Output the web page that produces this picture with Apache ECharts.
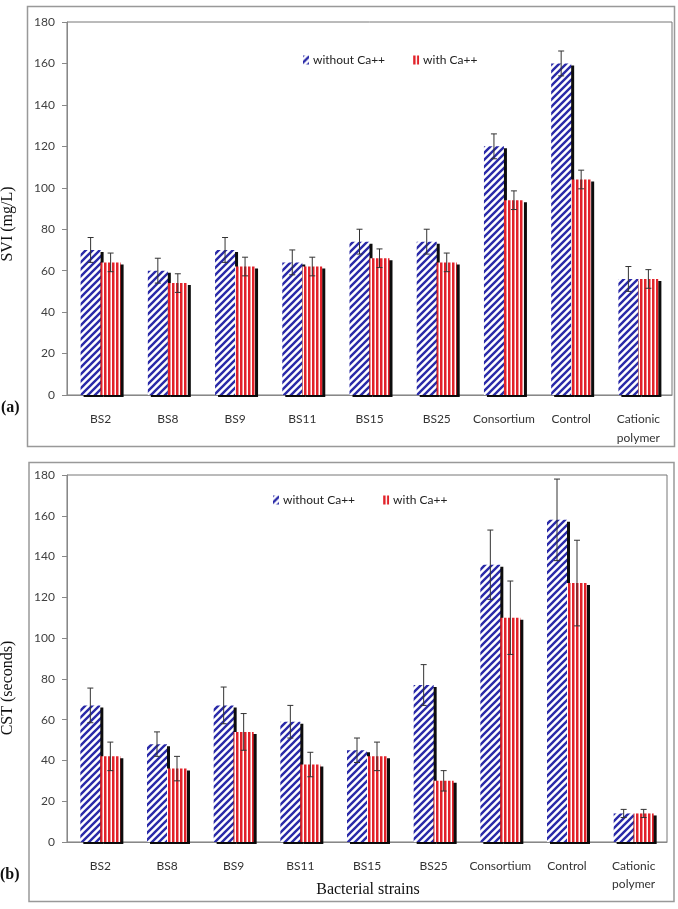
<!DOCTYPE html>
<html>
<head>
<meta charset="utf-8">
<title>SVI / CST by bacterial strain</title>
<script src="https://cdn.jsdelivr.net/npm/echarts@6/dist/echarts.min.js"></script>
<style>
  html, body { margin: 0; padding: 0; background: #fff; }
  #chart { width: 678px; height: 909px; }
</style>
</head>
<body>
<div id="chart"></div>
<script>
// categories on the x axis (same for both panels)
const categories = ['BS2', 'BS8', 'BS9', 'BS11', 'BS15', 'BS25', 'Consortium', 'Control', 'Cationic\npolymer'];

// (a) SVI (mg/L)
const sviWithout = [70, 60, 70, 64, 74, 74, 120, 160, 56];
const sviWithoutErr = [6, 6, 6, 6, 6, 6, 6, 6, 6];
const sviWith = [64, 54, 62, 62, 66, 64, 94, 104, 56];
const sviWithErr = [4.5, 4.5, 4.5, 4.5, 4.5, 4.5, 4.5, 4.5, 4.5];

// (b) CST (seconds)
const cstWithout = [67, 48, 67, 59, 45, 77, 136, 158, 14];
const cstWithoutErr = [8.5, 6, 9, 8, 6, 10, 17, 20, 2];
const cstWith = [42, 36, 54, 38, 42, 30, 110, 127, 14];
const cstWithErr = [7, 6, 9, 6, 7, 5, 18, 21, 2];

// y axis ticks
const yMin = 0, yMax = 180, yStep = 20;

const seriesNames = ['without Ca++', 'with Ca++'];
const BAR_W = 20;

// hatch fills
function diagPattern () {
  const c = document.createElement('canvas');
  c.width = 7; c.height = 7;
  const ctx = c.getContext('2d');
  ctx.fillStyle = '#fff';
  ctx.fillRect(0, 0, 7, 7);
  ctx.strokeStyle = '#2a2aa8';
  ctx.lineWidth = 2.4;
  ctx.beginPath();
  ctx.moveTo(-1, 8); ctx.lineTo(8, -1);
  ctx.moveTo(-4, 4); ctx.lineTo(4, -4);
  ctx.moveTo(3, 11); ctx.lineTo(11, 3);
  ctx.stroke();
  return c;
}
function vertPattern () {
  const c = document.createElement('canvas');
  c.width = 4; c.height = 4;
  const ctx = c.getContext('2d');
  ctx.fillStyle = '#fff';
  ctx.fillRect(0, 0, 4, 4);
  ctx.fillStyle = '#e2222a';
  ctx.fillRect(0, 0, 2.5, 4);
  return c;
}
const blueFill = { image: diagPattern(), repeat: 'repeat' };
const redFill = { image: vertPattern(), repeat: 'repeat' };

const font = 'Lato, "Open Sans", sans-serif';
const serif = '"Liberation Serif", "DejaVu Serif", serif';

function barSeries (name, data, fill, gi) {
  return {
    name: name,
    type: 'bar',
    xAxisIndex: gi,
    yAxisIndex: gi,
    barWidth: BAR_W,
    barGap: '0%',
    data: data,
    itemStyle: {
      color: fill,
      shadowColor: 'rgba(0,0,0,0.95)',
      shadowOffsetX: 3,
      shadowOffsetY: 2,
      shadowBlur: 0
    }
  };
}

function errSeries (vals, errs, side, gi) {
  return {
    type: 'custom',
    xAxisIndex: gi,
    yAxisIndex: gi,
    z: 5,
    silent: true,
    encode: { x: 0, y: [1] },
    data: vals.map((v, i) => [i, v, errs[i], side]),
    renderItem: function (params, api) {
      const i = api.value(0), v = api.value(1), e = api.value(2), s = api.value(3);
      const hi = api.coord([i, v + e]);
      const lo = api.coord([i, v - e]);
      const x = hi[0] + s * BAR_W / 2;
      const st = { stroke: '#333', lineWidth: 1 };
      return {
        type: 'group',
        children: [
          { type: 'line', shape: { x1: x, y1: hi[1], x2: x, y2: lo[1] }, style: st },
          { type: 'line', shape: { x1: x - 3, y1: hi[1], x2: x + 3, y2: hi[1] }, style: st },
          { type: 'line', shape: { x1: x - 3, y1: lo[1], x2: x + 3, y2: lo[1] }, style: st }
        ]
      };
    }
  };
}

function xAxis (gi, lh) {
  return {
    type: 'category',
    gridIndex: gi,
    data: categories,
    axisLine: { lineStyle: { color: '#888' } },
    axisTick: { length: 5, lineStyle: { color: '#888' } },
    axisLabel: { color: '#333', fontFamily: font, fontSize: 12, margin: 15, lineHeight: lh, interval: 0 }
  };
}
function yAxis (gi) {
  return {
    type: 'value',
    gridIndex: gi,
    min: yMin,
    max: yMax,
    interval: yStep,
    splitLine: { show: false },
    axisLine: { show: true, lineStyle: { color: '#888' } },
    axisTick: { show: true, length: 5, lineStyle: { color: '#888' } },
    axisLabel: { color: '#404040', fontFamily: font, fontSize: 12, margin: 12 }
  };
}

function legend (left, top) {
  return {
    data: seriesNames,
    left: left,
    top: top,
    itemWidth: 6,
    itemHeight: 9,
    itemGap: 28,
    icon: 'rect',
    selectedMode: false,
    textStyle: { color: '#222', fontFamily: font, fontSize: 12, padding: [0, 0, 0, -1] }
  };
}

const chart = echarts.init(document.getElementById('chart'), null, { renderer: 'canvas' });
chart.setOption({
  animation: false,
  backgroundColor: '#fff',
  grid: [
    { left: 67, top: 22, width: 605, height: 373, show: true, borderColor: '#777', borderWidth: 1, outerBoundsMode: 'none' },
    { left: 67, top: 475, width: 600, height: 367, show: true, borderColor: '#777', borderWidth: 1, outerBoundsMode: 'none' }
  ],
  legend: [legend(298, 49), legend(268, 489)],
  xAxis: [xAxis(0, 19), xAxis(1, 18)],
  yAxis: [yAxis(0), yAxis(1)],
  series: [
    barSeries(seriesNames[0], sviWithout, blueFill, 0),
    barSeries(seriesNames[1], sviWith, redFill, 0),
    errSeries(sviWithout, sviWithoutErr, -1, 0),
    errSeries(sviWith, sviWithErr, 1, 0),
    barSeries(seriesNames[0], cstWithout, blueFill, 1),
    barSeries(seriesNames[1], cstWith, redFill, 1),
    errSeries(cstWithout, cstWithoutErr, -1, 1),
    errSeries(cstWith, cstWithErr, 1, 1)
  ],
  graphic: [
    // panel frames
    { type: 'rect', shape: { x: 27.5, y: 6.5, width: 647, height: 440 }, style: { fill: null, stroke: '#999', lineWidth: 1.5 }, z: -1 },
    { type: 'rect', shape: { x: 29, y: 462.5, width: 645, height: 439 }, style: { fill: null, stroke: '#999', lineWidth: 1.5 }, z: -1 },
    // titles
    { type: 'text', x: 8, y: 224, rotation: Math.PI / 2, style: { text: 'SVI (mg/L)', font: '16px ' + serif, fill: '#111', align: 'center', verticalAlign: 'middle' } },
    { type: 'text', x: 8, y: 688, rotation: Math.PI / 2, style: { text: 'CST (seconds)', font: '16px ' + serif, fill: '#111', align: 'center', verticalAlign: 'middle' } },
    { type: 'text', x: 1, y: 408, style: { text: '(a)', font: 'bold 16px ' + serif, fill: '#111', verticalAlign: 'middle' } },
    { type: 'text', x: 0, y: 875, style: { text: '(b)', font: 'bold 16px ' + serif, fill: '#111', verticalAlign: 'middle' } },
    { type: 'text', x: 368, y: 890, style: { text: 'Bacterial strains', font: '16px ' + serif, fill: '#111', align: 'center', verticalAlign: 'middle' } }
  ]
});
</script>
</body>
</html>
